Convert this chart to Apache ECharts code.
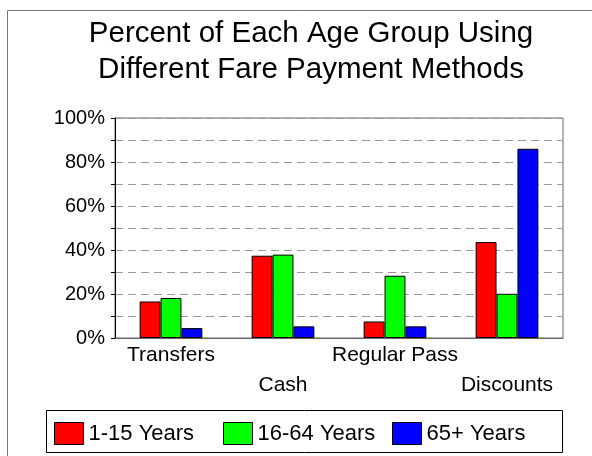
<!DOCTYPE html>
<html>
<head>
    <meta charset="utf-8">
    <script src="https://cdn.jsdelivr.net/npm/echarts@6/dist/echarts.min.js"></script>
</head>
<body style="margin:0;background:#fff;">
    <div id="fare" style="width: 592px;height:456px;"></div>
    <script type="text/javascript">
        // fare payment methods by age group
        var methods = ['Transfers', 'Cash', 'Regular Pass', 'Discounts'];
        var ages = ['1-15 Years', '16-64 Years', '65+ Years'];
        var young = [16.6, 37.4, 7.5, 43.6];
        var adult = [18.2, 37.9, 28.3, 20.1];
        var senior = [4.5, 5.3, 5.3, 86.0];
        var colors = ['#ff0000', '#00ff00', '#0000ff'];

        var myChart = echarts.init(document.getElementById('fare'));
        var font = 'Liberation Sans, Arial, sans-serif';

        var vals = [young, adult, senior];
        var ser = [];
        var legends = [];
        var legendLeft = [54, 223, 392];
        for (var i = 0; i < ages.length; i++) {
            ser.push({
                name: ages[i],
                type: 'bar',
                data: vals[i],
                barGap: '0%',
                barCategoryGap: '44%',
                itemStyle: { color: colors[i], borderColor: '#000', borderWidth: 1 }
            });
            // one legend per item, the original keeps fixed columns
            legends.push({
                data: [ages[i]],
                left: legendLeft[i],
                top: 422,
                padding: 0,
                itemWidth: 29,
                itemHeight: 22,
                icon: 'rect',
                itemStyle: { borderColor: '#000', borderWidth: 1 },
                textStyle: { fontFamily: font, fontSize: 22, color: '#000', padding: [0, 0, 0, 0] }
            });
        }

        option = {
            animation: false,
            title: {
                text: 'Percent of Each Age Group Using\nDifferent Fare Payment Methods',
                left: 306,
                textAlign: 'center',
                top: 11,
                textStyle: { fontFamily: font, fontSize: 29.5, fontWeight: 'normal', color: '#000', lineHeight: 36 }
            },
            legend: legends,
            graphic: [
                { type: 'rect', shape: { x: 7.5, y: 10.5, width: 700, height: 600 },
                  style: { fill: 'none', stroke: '#777', lineWidth: 1 } },
                { type: 'rect', shape: { x: 46.5, y: 410.5, width: 516, height: 42 },
                  style: { fill: 'none', stroke: '#000', lineWidth: 1 } }
            ],
            grid: { left: 115, right: 29, top: 118, bottom: 118, show: true, borderColor: '#666', borderWidth: 1 },
            xAxis: {
                type: 'category',
                data: methods,
                axisLine: { lineStyle: { color: '#666' } },
                axisTick: { length: 4, lineStyle: { color: '#666' } },
                axisLabel: {
                    interval: 0,
                    margin: 2,
                    fontFamily: font, fontSize: 21, color: '#000', lineHeight: 30,
                    formatter: function (v, idx) { return idx % 2 ? '\n' + v : v; }
                }
            },
            yAxis: {
                type: 'value',
                min: 0, max: 100, interval: 10,
                axisLine: { show: true, lineStyle: { color: '#000' } },
                axisTick: { show: true, length: 4, lineStyle: { color: '#000' } },
                splitLine: { lineStyle: { color: '#999', type: [8, 5] } },
                axisLabel: {
                    margin: 10,
                    fontFamily: font, fontSize: 20, color: '#000',
                    formatter: function (v) { return v % 20 === 0 ? v + '%' : ''; }
                }
            },
            series: ser
        };
        myChart.setOption(option);
    </script>
</body>
</html>
